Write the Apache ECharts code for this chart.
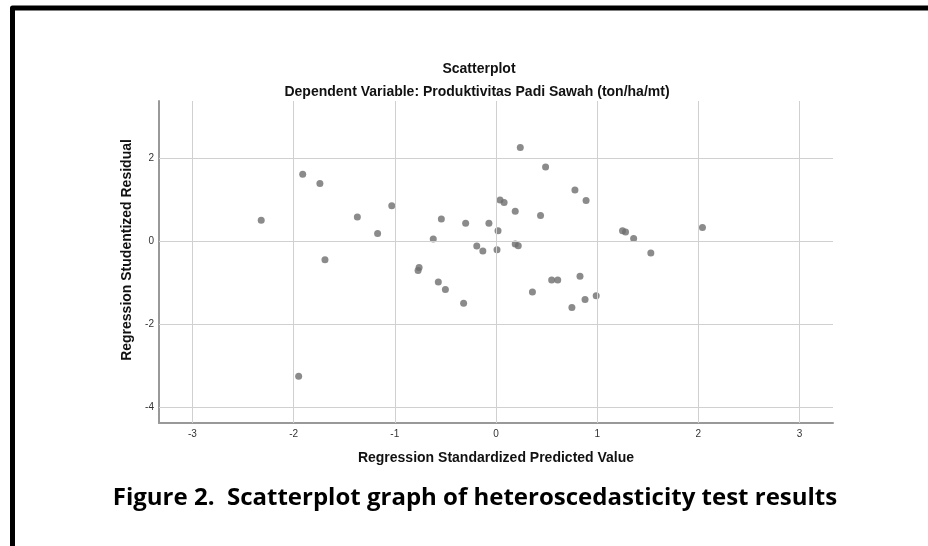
<!DOCTYPE html>
<html>
<head>
<meta charset="utf-8">
<script src="https://cdn.jsdelivr.net/npm/echarts@6/dist/echarts.min.js"></script>
<style>
  html, body { margin: 0; padding: 0; background: #fff; }
  #chart { width: 928px; height: 546px; }
</style>
</head>
<body>
<div id="chart"></div>
<script>
// predicted value (x) and studentized residual (y)
var predicted = [
    -2.32, -1.91, -1.74, -1.69, -1.95, -1.37, -1.17, -1.03, -0.76, -0.77,
    -0.62, -0.57, -0.54, -0.50, -0.32, -0.30, -0.19, -0.13, -0.07, 0.02,
    0.01, 0.04, 0.08, 0.19, 0.19, 0.22, 0.24, 0.36, 0.44, 0.49,
    0.55, 0.61, 0.75, 0.78, 0.83, 0.88, 0.89, 0.99, 1.25, 1.28,
    1.36, 1.53, 2.04
];
var residual = [
    0.50, 1.61, 1.39, -0.45, -3.26, 0.58, 0.18, 0.85, -0.64, -0.71,
    0.05, -0.99, 0.53, -1.17, -1.50, 0.43, -0.12, -0.24, 0.43, 0.25,
    -0.21, 0.99, 0.93, 0.72, -0.07, -0.11, 2.26, -1.23, 0.62, 1.79,
    -0.94, -0.94, -1.60, 1.23, -0.85, -1.41, 0.98, -1.32, 0.25, 0.22,
    0.06, -0.29, 0.33
];
var xTicks = [-3, -2, -1, 0, 1, 2, 3];
var yTicks = [-4, -2, 0, 2];

var points = [];
for (var i = 0; i < predicted.length; i++) {
    points.push([predicted[i], residual[i]]);
}

// grid lines drawn as mark lines at the tick values
var gridLines = [];
for (var i = 0; i < xTicks.length; i++) {
    gridLines.push({xAxis: xTicks[i]});
}
for (var i = 0; i < yTicks.length; i++) {
    gridLines.push({yAxis: yTicks[i]});
}

var myChart = echarts.init(document.getElementById('chart'));

var labelFont = {fontFamily: 'Liberation Sans', fontSize: 14, fontWeight: 'bold', color: '#111'};

var option = {
    backgroundColor: '#fff',
    animation: false,
    title: [
        {
            text: 'Scatterplot',
            left: 474, top: 57, textAlign: 'center',
            textStyle: labelFont
        },
        {
            text: 'Dependent Variable: Produktivitas Padi Sawah (ton/ha/mt)',
            left: 472, top: 80, textAlign: 'center',
            textStyle: labelFont
        },
        {
            text: 'Figure 2.  Scatterplot graph of heteroscedasticity test results',
            left: 470, top: 481, textAlign: 'center',
            textStyle: {fontFamily: 'Open Sans', fontSize: 24, fontWeight: 'bold', color: '#000'}
        }
    ],
    grid: {left: 159, right: 95, top: 101, bottom: 123},
    xAxis: {
        type: 'value',
        min: -3.33,
        max: 3.33,
        name: 'Regression Standardized Predicted Value',
        nameLocation: 'middle',
        nameGap: 28,
        nameTextStyle: labelFont,
        axisLine: {show: true, onZero: false, lineStyle: {color: '#999', width: 2}},
        axisTick: {show: false},
        splitLine: {show: false},
        axisLabel: {
            customValues: xTicks,
            margin: 6,
            fontFamily: 'Liberation Sans', fontSize: 10, color: '#333'
        }
    },
    yAxis: {
        type: 'value',
        min: -4.39,
        max: 3.38,
        name: 'Regression Studentized Residual',
        nameLocation: 'middle',
        nameGap: 24,
        nameTextStyle: {
            fontFamily: 'Liberation Sans', fontSize: 14, fontWeight: 'bold', color: '#111',
            padding: [0, 0, 0, 24]
        },
        axisLine: {show: true, onZero: false, lineStyle: {color: '#999', width: 2}},
        axisTick: {show: false},
        splitLine: {show: false},
        axisLabel: {
            customValues: yTicks,
            margin: 5,
            fontFamily: 'Liberation Sans', fontSize: 10, color: '#333'
        }
    },
    series: [
        {
            type: 'scatter',
            data: points,
            symbolSize: 7,
            itemStyle: {color: '#6e6e6e'},
            markLine: {
                silent: true,
                symbol: 'none',
                label: {show: false},
                lineStyle: {color: '#d0d0d0', width: 1, type: 'solid'},
                data: gridLines
            },
            z: 3
        }
    ],
    graphic: [
        {
            type: 'polyline',
            shape: {points: [[12.5, 546], [12.5, 8], [928, 8]]},
            style: {stroke: '#000', lineWidth: 5, fill: null, lineJoin: 'round'}
        }
    ]
};

myChart.setOption(option);
</script>
</body>
</html>
